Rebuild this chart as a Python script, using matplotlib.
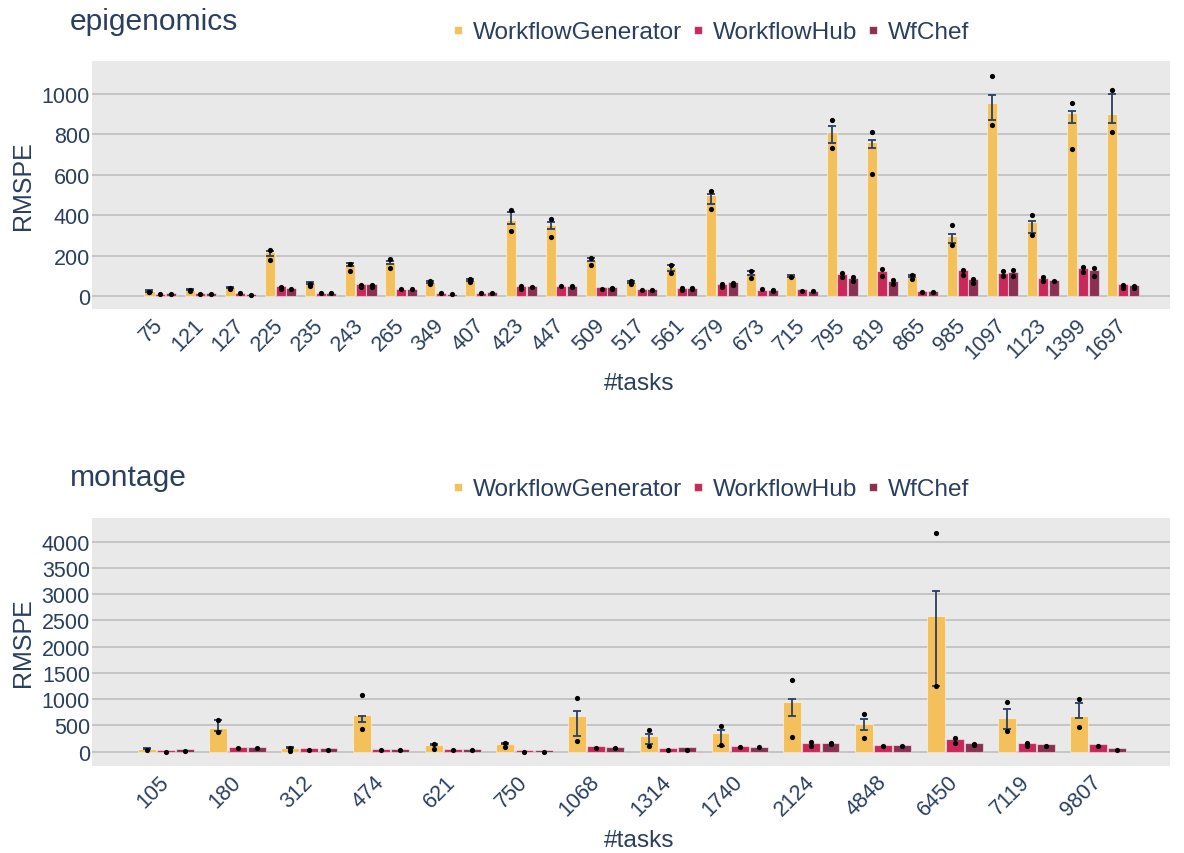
import numpy as np
import matplotlib
matplotlib.use('Agg')
import matplotlib.pyplot as plt
from matplotlib.lines import Line2D

plt.rcParams['font.family'] = ['Liberation Sans', 'DejaVu Sans']

TEXT = '#2a3f5f'
COLORS = ['#f4c05b', '#c8295a', '#8a3152']
NAMES = ['WorkflowGenerator', 'WorkflowHub', 'WfChef']

# ---- epigenomics ----
epi_tasks = [75, 121, 127, 225, 235, 243, 265, 349, 407, 423, 447, 509, 517,
             561, 579, 673, 715, 795, 819, 865, 985, 1097, 1123, 1399, 1697]
epi_gen = [25, 31, 43, 219, 63, 157, 167, 71, 81, 376, 350, 178, 71,
           142, 502, 114, 97, 812, 764, 99, 299, 955, 365, 904, 899]
epi_hub = [12, 15, 17, 50, 17, 61, 35, 17, 17, 51, 50, 43, 33,
           40, 59, 30, 33, 107, 122, 25, 127, 112, 87, 137, 58]
epi_chef = [13, 15, 12, 40, 17, 58, 35, 12, 20, 50, 50, 43, 33,
            40, 69, 30, 25, 89, 73, 25, 83, 117, 81, 129, 54]
# error bar ends (WorkflowGenerator)
epi_gen_lo = [22, 28, 38, 198, 58, 150, 160, 66, 76, 358, 330, 175, 66,
              122, 457, 104, 92, 759, 733, 94, 264, 873, 310, 858, 858]
epi_gen_hi = [28, 34, 47, 223, 68, 165, 172, 76, 86, 416, 366, 190, 76,
              154, 507, 124, 102, 841, 772, 104, 309, 997, 371, 914, 998]
# individual runs
epi_gen_pts = [[18, 22], [23, 28], [40, 33], [226, 178], [60, 50], [160, 125],
               [185, 140], [76, 59], [86, 69], [424, 322], [383, 292], [190, 155],
               [76, 59], [153, 115], [518, 431], [122, 87], [92], [873, 734],
               [810, 606], [104, 83], [350, 252], [1089, 845], [401, 300],
               [957, 726], [1021, 812]]
epi_hub_pts = [[8], [12], [17], [43, 36], [15], [56, 46], [35], [15], [15],
               [48, 36], [48], [35], [30], [40, 30], [58, 45], [33], [25],
               [115, 94], [132, 99], [20], [127, 102], [124, 97], [92, 73],
               [145, 120], [56, 40]]
epi_chef_pts = [[8], [12], [3], [33], [15], [56, 43], [35], [12], [17], [43],
                [50, 43], [40, 33], [30], [40, 33], [66, 53], [30, 25], [25],
                [94, 73], [79, 59], [20], [86, 66], [127, 99], [74], [137, 97],
                [50, 40]]

# ---- montage ----
mon_tasks = [105, 180, 312, 474, 621, 750, 1068, 1314, 1740, 2124, 4848, 6450, 7119, 9807]
mon_gen = [57, 445, 76, 705, 133, 152, 686, 305, 349, 952, 533, 2578, 641, 686]
mon_hub = [38, 83, 63, 57, 57, 32, 102, 63, 108, 171, 133, 241, 171, 146]
mon_chef = [50, 83, 63, 57, 57, 32, 95, 83, 89, 171, 133, 165, 140, 76]
mon_gen_lo = [50, 400, 70, 559, 125, 145, 292, 146, 114, 679, 419, 1257, 432, 641]
mon_gen_hi = [64, 610, 82, 686, 141, 159, 775, 330, 406, 1003, 629, 3055, 806, 921]
mon_gen_pts = [[25], [610, 368], [76, 19], [1086, 432], [152, 50], [171, 83],
               [1016, 210], [419, 114], [495, 121], [1372, 286], [718, 260],
               [4172, 1257], [953, 394], [1003, 464]]
mon_hub_pts = [[0], [70], [38], [25], [38], [0], [70], [38], [95], [178, 102],
               [102], [267, 165], [159, 114], [114]]
mon_chef_pts = [[13], [70], [38], [25], [38], [0], [70], [38], [95], [140, 159],
                [102], [140, 127], [102], [38]]


def draw_panel(ax, tasks, series, pts, lo, hi, yticks, ylim, xlim):
    x = np.arange(len(tasks))
    offs = [-0.267, 0.0, 0.267]
    ax.set_facecolor('#e9e9e9')
    for k in range(3):
        xs = x + offs[k]
        ax.bar(xs, series[k], width=0.25, color=COLORS[k],
               edgecolor=(1, 1, 1, 0.5), linewidth=0.8, zorder=2)
        if k == 0:
            lo_a = np.array(lo, float)
            hi_a = np.array(hi, float)
            ax.errorbar(xs, (lo_a + hi_a) / 2, yerr=(hi_a - lo_a) / 2, fmt='none',
                        ecolor=TEXT, elinewidth=1.3, capsize=3, capthick=1.3, zorder=3)
        px = [xs[i] for i in range(len(tasks)) for v in pts[k][i]]
        py = [v for i in range(len(tasks)) for v in pts[k][i]]
        ax.scatter(px, py, s=14, color='black', linewidths=0, zorder=4)
    for s in ax.spines.values():
        s.set_visible(False)
    ax.set_yticks(yticks)
    ax.set_ylim(*ylim)
    ax.set_xlim(*xlim)
    ax.grid(axis='y', color='#c2c2c2', linewidth=1.3, zorder=0)
    ax.set_axisbelow(True)
    ax.tick_params(axis='y', length=0, labelsize=15.5, colors=TEXT, pad=1.5)
    ax.tick_params(axis='x', length=0, labelsize=15.5, colors=TEXT, pad=9)
    ax.set_xticks(x)
    ax.set_xticklabels([str(t) for t in tasks], rotation=45, ha='right',
                       va='center', rotation_mode='anchor')
    ax.set_ylabel('RMSPE', fontsize=18, color=TEXT)
    ax.yaxis.set_label_coords(-0.053, 0.5)
    ax.set_xlabel('#tasks', fontsize=17.6, color=TEXT)
    ax.xaxis.set_label_coords(0.508, -0.255)


fig = plt.figure(figsize=(11.84, 8.54), dpi=100)
W, H = 1184, 854
ax1 = fig.add_axes([92 / W, 1 - 310 / H, 1078 / W, 248 / H])
ax2 = fig.add_axes([92 / W, 1 - 767 / H, 1078 / W, 248 / H])

draw_panel(ax1, epi_tasks, [epi_gen, epi_hub, epi_chef],
           [epi_gen_pts, epi_hub_pts, epi_chef_pts], epi_gen_lo, epi_gen_hi,
           [0, 200, 400, 600, 800, 1000], (-64, 1163), (-1.7, 25.17))
draw_panel(ax2, mon_tasks, [mon_gen, mon_hub, mon_chef],
           [mon_gen_pts, mon_hub_pts, mon_chef_pts], mon_gen_lo, mon_gen_hi,
           [0, 500, 1000, 1500, 2000, 2500, 3000, 3500, 4000], (-272, 4451), (-1.03, 14.0))

handles = [Line2D([], [], marker='s', linestyle='none', markersize=6,
                  markerfacecolor=c, markeredgecolor=(1, 1, 1, 0.6), markeredgewidth=0.8)
           for c in COLORS]
for ytitle, yleg, title in [(22, 33, 'epigenomics'), (478, 490, 'montage')]:
    fig.text(70 / W, 1 - ytitle / H, title, fontsize=21.6, color=TEXT, va='center')
    fig.legend(handles, NAMES, loc='center left', bbox_to_anchor=(451 / W, 1 - yleg / H),
               ncol=3, frameon=False, fontsize=17.6, labelcolor=TEXT,
               handlelength=0.6, handletextpad=0.3, columnspacing=0.35,
               borderaxespad=0, borderpad=0)

fig.savefig('out.png', dpi=100)
